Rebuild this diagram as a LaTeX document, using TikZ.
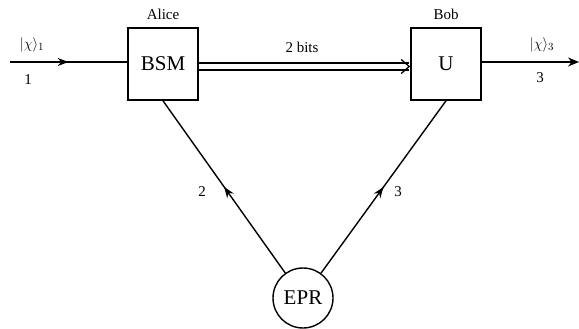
\documentclass[tikz,border=0pt]{standalone}
\usepackage{fontspec}
\setmainfont{Liberation Serif}
\usetikzlibrary{arrows.meta,decorations.markings}
\begin{document}
\begin{tikzpicture}[x=1pt,y=-1pt,
  box/.style={draw,line width=1.6pt,minimum width=70pt,minimum height=72pt,inner sep=0pt,font=\fontsize{21}{23}\selectfont},
  src/.style={draw,line width=1.4pt,circle,minimum size=60pt,inner sep=0pt,font=\fontsize{21}{23}\selectfont},
  lbl/.style={font=\fontsize{15}{17}\selectfont},
  wire/.style={line width=1.4pt},
  midarrow/.style={postaction={decorate},decoration={markings,mark=at position #1 with {\arrow{Stealth[length=11pt,width=8pt]}}}}
]
\useasboundingbox (0,0) rectangle (579,329);
\node[box] (bsm) at (163,64) {BSM};
\node[box] (u) at (446,64) {U};
\node[src] (epr) at (303,298) {EPR};
\node[lbl] (alice) at (163,14) {Alice};
\node[lbl] (bob) at (446,14) {Bob};
\coordinate (in) at (10,62);
\coordinate (out) at (579,62);
\draw[wire,midarrow=0.5] (in) -- (bsm.west |- in);
\draw[wire,-{Stealth[length=11pt,width=9pt]}] (u.east |- out) -- (out);
\draw[double distance=5.5pt,line width=1.3pt,-{Straight Barb[length=8pt,width=14pt]}] (bsm.east |- in) ++(0,4.5) coordinate (d1) -- (d1 -| u.west);
\draw[wire,midarrow=0.5] (epr) -- (bsm.south);
\draw[wire,midarrow=0.5] (epr) -- (u.south);
\node[lbl] (k1) at (32,45) {$|\chi\rangle_1$};
\node[lbl] (n1) at (28,80) {1};
\node[lbl] (bits) at (302,47) {2 bits};
\node[lbl] (k3) at (542,45) {$|\chi\rangle_3$};
\node[lbl] (n3) at (540,78) {3};
\node[lbl] (n2) at (202,192) {2};
\node[lbl] (n3b) at (398,192) {3};
\end{tikzpicture}
\end{document}
